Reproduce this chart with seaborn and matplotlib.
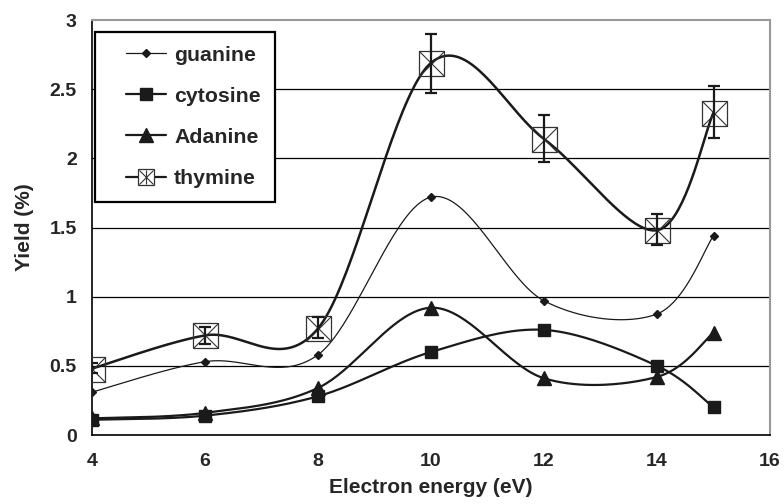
import numpy as np
import pandas as pd
import matplotlib
matplotlib.use("Agg")
import matplotlib.pyplot as plt
import seaborn as sns
from matplotlib.lines import Line2D
from matplotlib.legend_handler import HandlerLine2D, HandlerTuple

# ---------------- data ----------------
energy = [4, 6, 8, 10, 12, 14, 15]
guanine = [0.31, 0.53, 0.58, 1.72, 0.97, 0.875, 1.44]
cytosine = [0.11, 0.14, 0.28, 0.60, 0.76, 0.50, 0.20]
adanine = [0.12, 0.16, 0.34, 0.92, 0.41, 0.42, 0.74]
thymine = [0.48, 0.72, 0.77, 2.69, 2.14, 1.48, 2.33]
thymine_err_low = [0.03, 0.06, 0.07, 0.22, 0.17, 0.11, 0.18]
thymine_err_high = [0.04, 0.06, 0.08, 0.21, 0.17, 0.12, 0.19]
series_names = ["guanine", "cytosine", "Adanine", "thymine"]
x_ticks = [4, 6, 8, 10, 12, 14, 16]
y_ticks = [0, 0.5, 1, 1.5, 2, 2.5, 3]
y_tick_labels = ["0", "0.5", "1", "1.5", "2", "2.5", "3"]


def excel_smooth(xs, ys, n=40):
    """Bezier smoothing similar to spreadsheet 'smoothed line'."""
    P = np.column_stack([xs, ys]).astype(float)
    out = []
    m = len(P)
    for i in range(m - 1):
        p0 = P[i - 1] if i > 0 else P[i]
        p1 = P[i]
        p2 = P[i + 1]
        p3 = P[i + 2] if i + 2 < m else P[i + 1]
        c1 = p1 + (p2 - p0) / 6.0
        c2 = p2 - (p3 - p1) / 6.0
        t = np.linspace(0, 1, n, endpoint=(i == m - 2))[:, None]
        seg = ((1 - t) ** 3) * p1 + 3 * ((1 - t) ** 2) * t * c1 + 3 * (1 - t) * t ** 2 * c2 + t ** 3 * p2
        out.append(seg)
    return np.vstack(out)


sns.set_style("white")
plt.rcParams["font.family"] = ["Liberation Sans", "DejaVu Sans"]
plt.rcParams["font.weight"] = "bold"

fig = plt.figure(figsize=(7.84, 5.04), dpi=100)
ax = fig.add_axes([92 / 784, 1 - 435 / 504, 678 / 784, 415 / 504])

values = {"guanine": guanine, "cytosine": cytosine, "Adanine": adanine, "thymine": thymine}
line_w = {"guanine": 0.9, "cytosine": 1.6, "Adanine": 1.6, "thymine": 1.8}

# gridlines
for yv in y_ticks[1:-1]:
    ax.axhline(yv, color="black", lw=0.9, zorder=0)

rows = []
for name in series_names:
    sm = excel_smooth(energy, values[name])
    rows.append(pd.DataFrame({"x": sm[:, 0], "y": sm[:, 1], "series": name}))
smooth_df = pd.concat(rows, ignore_index=True)

for name in series_names:
    sub = smooth_df[smooth_df["series"] == name]
    sns.lineplot(data=sub, x="x", y="y", ax=ax, color="#1a1a1a", lw=line_w[name],
                 sort=False, estimator=None, legend=False, zorder=3)

# markers
ax.plot(energy, guanine, ls="none", marker="D", ms=4.5, color="#1a1a1a", zorder=4)
ax.plot(energy, cytosine, ls="none", marker="s", ms=8.5, color="#1a1a1a", zorder=4)
ax.plot(energy, adanine, ls="none", marker="^", ms=10.5, color="#1a1a1a", zorder=4)
# thymine box-star markers
ax.plot(energy, thymine, ls="none", marker="s", ms=18, mfc="none", mec="#333333", mew=0.9, zorder=5)
ax.plot(energy, thymine, ls="none", marker="x", ms=18, mec="#333333", mew=0.8, zorder=5)
ax.errorbar(energy, thymine, yerr=[thymine_err_low, thymine_err_high], fmt="none",
            ecolor="#1a1a1a", elinewidth=1.6, capsize=4.3, capthick=1.6, zorder=6)

ax.set_xlim(4, 16)
ax.set_ylim(0, 3)
ax.set_xticks(x_ticks)
ax.set_yticks(y_ticks)
ax.set_yticklabels(y_tick_labels)
ax.tick_params(axis="both", labelsize=14, length=6, width=1.0, color="black", direction="out")
ax.tick_params(axis="x", pad=7)
ax.tick_params(axis="y", pad=5)
for lab in ax.get_xticklabels() + ax.get_yticklabels():
    lab.set_fontweight("bold")

for s in ["left", "bottom"]:
    ax.spines[s].set_color("black")
    ax.spines[s].set_linewidth(1.2)
for s in ["top", "right"]:
    ax.spines[s].set_color("#999999")
    ax.spines[s].set_linewidth(1.5)

ax.set_xlabel("Electron energy (eV)", fontsize=15, fontweight="bold", labelpad=6)
ax.set_ylabel("Yield (%)", fontsize=15, fontweight="bold", labelpad=11)

handles = [
    Line2D([], [], color="#1a1a1a", lw=0.9, marker="D", ms=4),
    Line2D([], [], color="#1a1a1a", lw=1.6, marker="s", ms=8),
    Line2D([], [], color="#1a1a1a", lw=1.6, marker="^", ms=10),
    (Line2D([], [], color="#1a1a1a", lw=1.6),
     Line2D([], [], ls="none", marker="s", ms=11, mfc="white", mec="#333333", mew=0.9),
     Line2D([], [], ls="none", marker="x", ms=10, mec="#333333", mew=0.8),
     Line2D([], [], ls="none", marker="|", ms=10, mec="#333333", mew=0.8)),
]
xp = 0.82
hmap = {
    handles[0]: HandlerLine2D(xpad=xp),
    handles[1]: HandlerLine2D(xpad=xp),
    handles[2]: HandlerLine2D(xpad=xp),
    handles[3]: HandlerTuple(ndivide=1, pad=0.0, xpad=xp),
}
leg = ax.legend(handles, series_names, handler_map=hmap, loc="upper left",
                bbox_to_anchor=(0.004, 0.972),
                fancybox=False, frameon=True, edgecolor="black", framealpha=1,
                prop={"size": 15.3, "weight": "bold"}, handlelength=2.7, handletextpad=0.37,
                labelspacing=1.04, borderpad=0.66, borderaxespad=0.0)
leg.get_frame().set_linewidth(1.6)
leg.set_zorder(10)

fig.savefig("out.png", dpi=100)
